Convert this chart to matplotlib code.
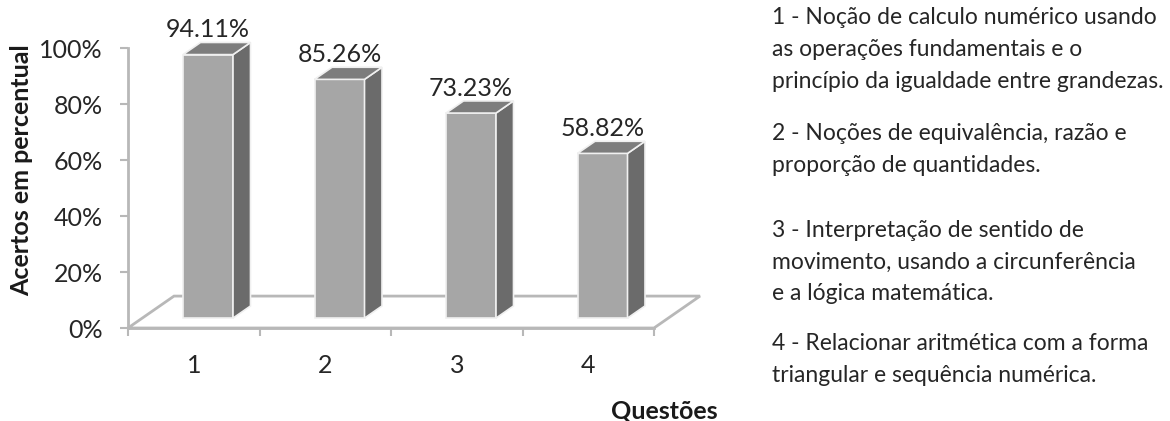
import numpy as np
import matplotlib.pyplot as plt
from matplotlib.patches import Polygon

# dados do grafico
questoes = ['1', '2', '3', '4']
acertos = [94.11, 85.26, 73.23, 58.82]
rotulos = ['94.11%', '85.26%', '73.23%', '58.82%']
descricoes = [
    ['1 - Noção de calculo numérico usando',
     'as operações fundamentais e o',
     'princípio da igualdade entre grandezas.'],
    ['2 - Noções de equivalência, razão e',
     'proporção de quantidades.'],
    ['3 - Interpretação de sentido de',
     'movimento, usando a circunferência',
     'e a lógica matemática.'],
    ['4 - Relacionar aritmética com a forma',
     'triangular e sequência numérica.'],
]

plt.rcParams['font.family'] = ['Lato', 'DejaVu Sans']

W, H = 1170, 421
fig = plt.figure(figsize=(W / 100, H / 100), dpi=100)
ax = fig.add_axes([128 / W, 93 / H, 526 / W, 280 / H])
n = len(questoes)
ax.set_xlim(0, n)
ax.set_ylim(0, 100)

# projecao da profundidade (pseudo 3D)
ddx, ddy = 0.35, 11.4
d0, d1 = 0.31, 0.69
bw = 0.38

c_floor = '#b8b8b8'
c_front = '#a6a6a6'
c_side = '#6b6b6b'
c_top = '#7d7d7d'
c_txt = '#262626'
fs = 18

floor = Polygon([(0, 0), (n, 0), (n + ddx, ddy), (ddx, ddy)], closed=True,
                facecolor='white', edgecolor=c_floor, lw=2, clip_on=False, zorder=1)
ax.add_patch(floor)

for i, v in enumerate(acertos):
    c = i + 0.5
    left = c - bw / 2 + d0 * ddx
    right = left + bw
    b = d0 * ddy
    t = b + v
    sx = (d1 - d0) * ddx
    sy = (d1 - d0) * ddy
    front = Polygon([(left, b), (right, b), (right, t), (left, t)],
                    facecolor=c_front, edgecolor='#f0f0f0', lw=1.2, clip_on=False, zorder=3)
    side = Polygon([(right, b), (right + sx, b + sy), (right + sx, t + sy), (right, t)],
                   facecolor=c_side, edgecolor='#f0f0f0', lw=1.2, clip_on=False, zorder=3)
    top = Polygon([(left, t), (right, t), (right + sx, t + sy), (left + sx, t + sy)],
                  facecolor=c_top, edgecolor='#f0f0f0', lw=1.2, clip_on=False, zorder=3)
    for p in (front, side, top):
        ax.add_patch(p)
    ax.text((left + right) / 2, t + sy + 0.5, rotulos[i], ha='center', va='bottom',
            fontsize=fs, color=c_txt, clip_on=False, zorder=4)

for s in ['top', 'right']:
    ax.spines[s].set_visible(False)
for s in ['left', 'bottom']:
    ax.spines[s].set_color(c_floor)
    ax.spines[s].set_linewidth(2)
    ax.spines[s].set_zorder(2)

ax.set_yticks(np.arange(0, 101, 20))
ax.set_yticklabels([f'{y}%' for y in range(0, 101, 20)])
ax.tick_params(axis='y', length=6, width=1.5, color=c_floor, pad=12,
               labelsize=fs, labelcolor=c_txt)

ax.set_xticks(np.arange(0, n + 1))
ax.set_xticklabels([])
ax.set_xticks(np.arange(n) + 0.5, minor=True)
ax.set_xticklabels(questoes, minor=True)
ax.tick_params(axis='x', which='major', length=6, width=1.5, color=c_floor)
ax.tick_params(axis='x', which='minor', length=0, pad=19,
               labelsize=fs, labelcolor=c_txt)

fig.text(664 / W, 1 - 411 / H, 'Questões', ha='center', va='center',
         fontsize=fs, fontweight='bold', color='#1a1a1a')
fig.text(22 / W, 1 - 170 / H, 'Acertos em percentual', ha='center', va='center',
         rotation=90, fontsize=fs, fontweight='bold', color='#1a1a1a')

inicio = [18, 133, 230, 343]
passo = 32
for y0, linhas in zip(inicio, descricoes):
    for k, linha in enumerate(linhas):
        fig.text(772 / W, 1 - (y0 + k * passo) / H, linha, ha='left', va='center',
                 fontsize=16.5, color=c_txt)

fig.savefig('out.png', dpi=100)
